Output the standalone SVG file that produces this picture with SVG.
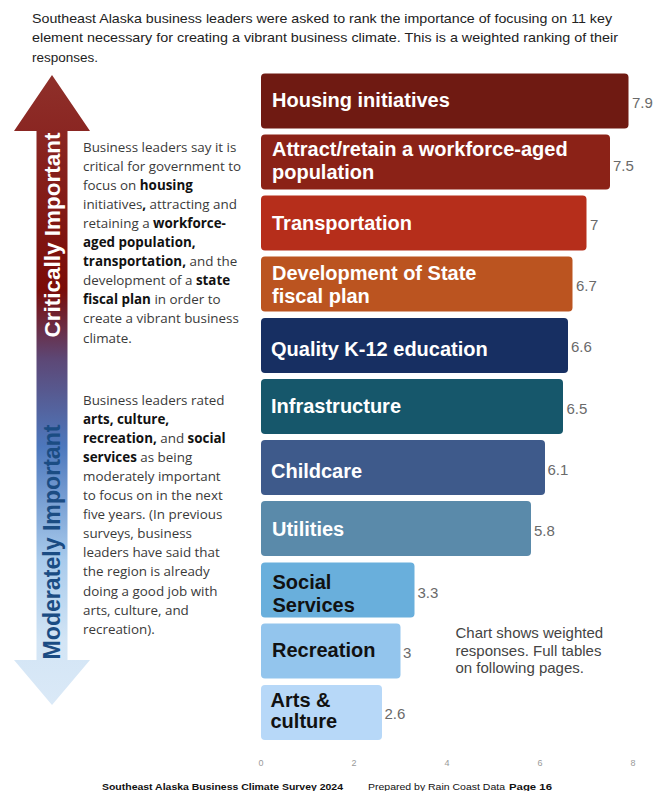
<svg xmlns="http://www.w3.org/2000/svg" width="669" height="791" viewBox="0 0 669 791">
<defs>
<linearGradient id="arrowGrad" gradientUnits="userSpaceOnUse" x1="0" y1="75" x2="0" y2="705">
<stop offset="0" stop-color="#8f302a"/>
<stop offset="0.09" stop-color="#8a2622"/>
<stop offset="0.34" stop-color="#7a0c08"/>
<stop offset="0.45" stop-color="#5d4775"/>
<stop offset="0.59" stop-color="#4d78bd"/>
<stop offset="0.77" stop-color="#a9cbec"/>
<stop offset="0.9" stop-color="#d3e5f5"/>
<stop offset="1" stop-color="#dae9f7"/>
</linearGradient>
<style>
.intro{font-family:"Liberation Sans",Arial,sans-serif;font-size:13.4px;fill:#222}
.para{font-family:"Open Sans","Liberation Sans",sans-serif;font-size:13.4px;fill:#3a3a3a}
.b{font-weight:bold;fill:#111}
.lbl{font-family:"Liberation Sans",Arial,sans-serif;font-size:20px;font-weight:bold;fill:#ffffff}
.lbld{font-family:"Liberation Sans",Arial,sans-serif;font-size:20px;font-weight:bold;fill:#111111}
.val{font-family:"Liberation Sans",Arial,sans-serif;font-size:15px;fill:#6a6a6a}
.axis{font-family:"Liberation Sans",Arial,sans-serif;font-size:9px;fill:#9a9a9a;text-anchor:middle}
.note{font-family:"Liberation Sans",Arial,sans-serif;font-size:15px;fill:#444}
.foot{font-family:"Liberation Sans",Arial,sans-serif;font-size:9.5px;fill:#111}
.vt{font-family:"Liberation Sans",Arial,sans-serif;font-weight:bold;text-anchor:middle}
</style>
</defs>
<rect width="669" height="791" fill="#ffffff"/>

<g id="intro">
<text class="intro" x="32" y="22.5" textLength="580" lengthAdjust="spacingAndGlyphs">Southeast Alaska business leaders were asked to rank the importance of focusing on 11 key</text>
<text class="intro" x="32" y="42" textLength="586" lengthAdjust="spacingAndGlyphs">element necessary for creating a vibrant business climate. This is a weighted ranking of their</text>
<text class="intro" x="32" y="61.5" textLength="66" lengthAdjust="spacingAndGlyphs">responses.</text>
</g>

<g id="importance-arrow">
<path d="M52,75 L90,131 L67.5,131 L67.5,660 L90,660 L52,705 L14,660 L36.5,660 L36.5,131 L14,131 Z" fill="url(#arrowGrad)"/>
<text class="vt" transform="translate(60,235) rotate(-90)" font-size="22" fill="#ffffff" textLength="205" lengthAdjust="spacingAndGlyphs">Critically Important</text>
<text class="vt" transform="translate(60,542) rotate(-90)" font-size="23" fill="#1b4c83" textLength="235" lengthAdjust="spacingAndGlyphs">Moderately Important</text>
</g>

<g id="critical-text">
<text class="para" x="83" y="151.5">Business leaders say it is</text>
<text class="para" x="83" y="170.6">critical for government to</text>
<text class="para" x="83" y="189.7">focus on <tspan class="b">housing</tspan></text>
<text class="para" x="83" y="208.8">initiatives<tspan class="b">,</tspan> attracting and</text>
<text class="para" x="83" y="227.9">retaining a <tspan class="b">workforce-</tspan></text>
<text class="para" x="83" y="247"><tspan class="b">aged population,</tspan></text>
<text class="para" x="83" y="266.1"><tspan class="b">transportation,</tspan> and the</text>
<text class="para" x="83" y="285.2">development of a <tspan class="b">state</tspan></text>
<text class="para" x="83" y="304.3"><tspan class="b">fiscal plan</tspan> in order to</text>
<text class="para" x="83" y="323.4">create a vibrant business</text>
<text class="para" x="83" y="342.5">climate.</text>
</g>

<g id="moderate-text">
<text class="para" x="83" y="404.5">Business leaders rated</text>
<text class="para" x="83" y="423.6"><tspan class="b">arts, culture,</tspan></text>
<text class="para" x="83" y="442.7"><tspan class="b">recreation,</tspan> and <tspan class="b">social</tspan></text>
<text class="para" x="83" y="461.8"><tspan class="b">services</tspan> as being</text>
<text class="para" x="83" y="480.9">moderately important</text>
<text class="para" x="83" y="500">to focus on in the next</text>
<text class="para" x="83" y="519.1">five years. (In previous</text>
<text class="para" x="83" y="538.2">surveys, business</text>
<text class="para" x="83" y="557.3">leaders have said that</text>
<text class="para" x="83" y="576.4">the region is already</text>
<text class="para" x="83" y="595.5">doing a good job with</text>
<text class="para" x="83" y="614.6">arts, culture, and</text>
<text class="para" x="83" y="633.7">recreation).</text>
</g>

<g id="bar-housing">
<rect x="261" y="73.5" width="367.5" height="55" rx="4" fill="#6f1a12"/>
<text class="lbl" x="272" y="107">Housing initiatives</text>
<text class="val" x="632" y="108">7.9</text>
</g>
<g id="bar-workforce">
<rect x="261" y="134.5" width="349" height="55" rx="4" fill="#8b2217"/>
<text class="lbl" x="272" y="156">Attract/retain a workforce-aged</text>
<text class="lbl" x="272" y="179">population</text>
<text class="val" x="613" y="170.5">7.5</text>
</g>
<g id="bar-transportation">
<rect x="261" y="195.5" width="325.5" height="55" rx="4" fill="#b62e1b"/>
<text class="lbl" x="272" y="230">Transportation</text>
<text class="val" x="590" y="230">7</text>
</g>
<g id="bar-fiscal">
<rect x="261" y="256.5" width="311.5" height="55" rx="4" fill="#bb5420"/>
<text class="lbl" x="272" y="280">Development of State</text>
<text class="lbl" x="272" y="303">fiscal plan</text>
<text class="val" x="576" y="290.5">6.7</text>
</g>
<g id="bar-education">
<rect x="261" y="318" width="307" height="55" rx="4" fill="#172f62"/>
<text class="lbl" x="271" y="356">Quality K-12 education</text>
<text class="val" x="571" y="352">6.6</text>
</g>
<g id="bar-infrastructure">
<rect x="261" y="379" width="302" height="55" rx="4" fill="#16576b"/>
<text class="lbl" x="271" y="413">Infrastructure</text>
<text class="val" x="566.5" y="413.5">6.5</text>
</g>
<g id="bar-childcare">
<rect x="261" y="440" width="284" height="55" rx="4" fill="#3e5a8b"/>
<text class="lbl" x="271" y="478">Childcare</text>
<text class="val" x="547.5" y="474.5">6.1</text>
</g>
<g id="bar-utilities">
<rect x="261" y="501" width="270" height="55" rx="4" fill="#5a8aaa"/>
<text class="lbl" x="272" y="536">Utilities</text>
<text class="val" x="534" y="535.5">5.8</text>
</g>
<g id="bar-social">
<rect x="261" y="562.5" width="153.5" height="55" rx="4" fill="#69afdc"/>
<text class="lbld" x="272.5" y="589">Social</text>
<text class="lbld" x="272.5" y="612">Services</text>
<text class="val" x="417.5" y="597.5">3.3</text>
</g>
<g id="bar-recreation">
<rect x="261" y="623.5" width="139.5" height="55" rx="4" fill="#93c5ed"/>
<text class="lbld" x="272" y="657">Recreation</text>
<text class="val" x="403" y="658">3</text>
</g>
<g id="bar-arts">
<rect x="261" y="685" width="121" height="55" rx="4" fill="#b7d8f8"/>
<text class="lbld" x="270.5" y="707" font-size="17">Arts &amp;</text>
<text class="lbld" x="270.5" y="727.5" font-size="17">culture</text>
<text class="val" x="384.5" y="718.5">2.6</text>
</g>

<g id="note">
<text class="note" x="455.5" y="638">Chart shows weighted</text>
<text class="note" x="455.5" y="655.5">responses. Full tables</text>
<text class="note" x="455.5" y="673">on following pages.</text>
</g>

<g id="axis">
<text class="axis" x="261" y="766">0</text>
<text class="axis" x="354" y="766">2</text>
<text class="axis" x="447" y="766">4</text>
<text class="axis" x="540" y="766">6</text>
<text class="axis" x="633" y="766">8</text>
</g>

<g id="footer">
<text class="foot" x="102" y="789.5" font-weight="bold" textLength="241" lengthAdjust="spacingAndGlyphs">Southeast Alaska Business Climate Survey 2024</text>
<text class="foot" x="368" y="789.5" fill="#333" textLength="137" lengthAdjust="spacingAndGlyphs">Prepared by Rain Coast Data</text>
<text class="foot" x="509" y="789.5" font-weight="bold" textLength="43" lengthAdjust="spacingAndGlyphs">Page 16</text>
</g>

<g id="connectors"></g>
</svg>
